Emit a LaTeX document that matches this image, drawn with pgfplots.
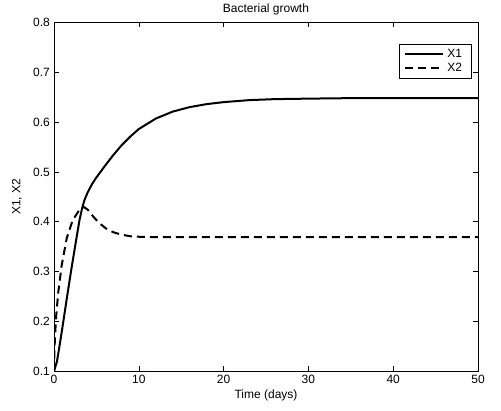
\documentclass[border=0pt]{standalone}
\usepackage{fontspec}
\setmainfont{Liberation Sans}
\usepackage{pgfplots}
\pgfplotsset{compat=1.18}
\begin{document}
\fontsize{12bp}{14bp}\selectfont
\begin{tikzpicture}
\begin{axis}[
  name=ax,
  scale only axis,
  width=424bp, height=349bp,
  xmin=0, xmax=50, ymin=0.1, ymax=0.8,
  xtick={0,10,20,30,40,50},
  ytick={0.1,0.2,0.3,0.4,0.5,0.6,0.7,0.8},
  yticklabel style={/pgf/number format/.cd,fixed,fixed zerofill,precision=1},
  /pgf/number format/assume math mode=true,
  tick align=inside,
  tick pos=both,
  major tick length=5bp,
  axis line style={line width=0.8bp},
  tick style={line width=0.6bp,black},
  title={Bacterial growth},
  title style={yshift=-3bp},
  xlabel={Time (days)},
  ylabel={X1, X2},
  xlabel style={yshift=2bp},
  ylabel style={yshift=3bp},
  legend style={at={(0.985,0.938)},anchor=north east,draw=black,line width=0.6bp,
    font=\fontsize{12bp}{14bp}\selectfont, inner xsep=5bp, inner ysep=3bp, row sep=0bp,
    nodes={inner xsep=3bp, text width=16bp}},
  legend cell align=left,
  legend image code/.code={\draw[#1] (0bp,0bp) -- (38bp,0bp);},
]
\addplot[black, line width=2bp] coordinates {
(0,0.1)(0.35,0.12)(0.7,0.156)(1.1,0.2)(1.5,0.245)(2,0.3)(2.5,0.352)(3,0.403)
(3.3,0.426)(3.6,0.444)(4,0.46)(4.5,0.476)(5,0.489)(6,0.512)(7,0.534)(8,0.554)(9,0.571)(10,0.586)
(12,0.607)(14,0.621)(16,0.63)(18,0.636)(20,0.64)(23,0.644)(26,0.646)(30,0.647)
(35,0.648)(40,0.648)(50,0.648)};
\addlegendentry{X1}
\addplot[black, line width=2bp, dash pattern=on 8bp off 5bp] coordinates {
(0,0.1)(0.05,0.14)(0.12,0.17)(0.25,0.21)(0.5,0.258)(0.9,0.312)(1.5,0.367)
(2.2,0.403)(3,0.424)(3.5,0.43)(4,0.424)(4.6,0.411)(5.3,0.398)(6.1,0.387)
(7,0.379)(8,0.374)(9,0.371)(10,0.37)(12,0.369)(20,0.369)(50,0.369)};
\addlegendentry{X2}
\end{axis}
\path ([xshift=-54bp,yshift=-39bp]ax.south west) rectangle ([xshift=23bp,yshift=21bp]ax.north east);
\end{tikzpicture}
\end{document}
